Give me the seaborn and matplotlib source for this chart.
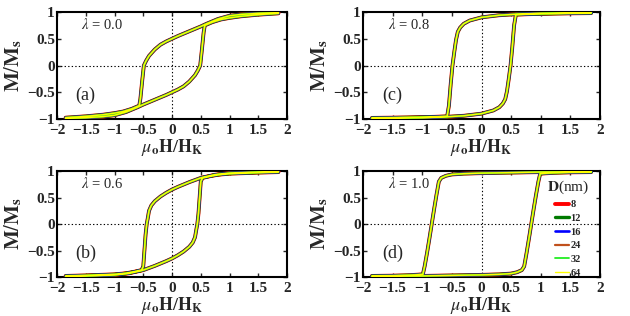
import matplotlib
matplotlib.use("Agg")
import numpy as np
import pandas as pd
import matplotlib.pyplot as plt
from matplotlib.lines import Line2D
import seaborn as sns

# particle diameters (legend) and their line styles
diameters = ["8", "12", "16", "24", "32", "64"]
line_colors = ["#ff0000", "#007a00", "#0000ff", "#c0501c", "#22ee22", "#ffff00"]
line_widths = [2.8, 2.4, 1.9, 1.6, 1.3, 1.0]

# upper (descending field) branch of each loop.
# the ascending branch is its mirror image (H, M) -> (-H, -M)
h_a = [1.85, 1.5, 1.2, 1.0, 0.8, 0.6, 0.5, 0.3, 0.1, 0.0, -0.1, -0.2, -0.3, -0.4,
       -0.45, -0.49, -0.52, -0.55, -0.57, -0.7, -0.85, -1.0, -1.2, -1.5, -1.85]
m_a = [0.99, 0.975, 0.955, 0.93, 0.87, 0.78, 0.73, 0.64, 0.55, 0.5, 0.45, 0.39, 0.3, 0.18,
       0.09, 0.0, -0.3, -0.62, -0.75, -0.81, -0.86, -0.89, -0.92, -0.95, -0.975]

h_b = [1.85, 1.5, 1.0, 0.75, 0.5, 0.3, 0.1, 0.0, -0.1, -0.2, -0.3, -0.36, -0.40, -0.42,
       -0.44, -0.46, -0.48, -0.50, -0.53, -0.65, -0.8, -1.0, -1.5, -1.85]
m_b = [0.99, 0.98, 0.96, 0.93, 0.87, 0.79, 0.70, 0.65, 0.59, 0.52, 0.43, 0.35, 0.25, 0.12,
       0.0, -0.2, -0.5, -0.8, -0.87, -0.9, -0.93, -0.95, -0.97, -0.98]

h_c = [1.85, 1.5, 1.0, 0.6, 0.3, 0.0, -0.2, -0.3, -0.36, -0.4, -0.43, -0.46, -0.49, -0.52,
       -0.55, -0.58, -0.8, -1.0, -1.5, -1.85]
m_c = [0.99, 0.985, 0.975, 0.96, 0.94, 0.90, 0.84, 0.78, 0.71, 0.63, 0.48, 0.25, 0.0, -0.35,
       -0.75, -0.95, -0.96, -0.965, -0.975, -0.98]

h_d = [1.85, 1.5, 1.0, 0.5, 0.0, -0.3, -0.5, -0.6, -0.68, -0.72, -0.76, -0.8, -0.84, -0.88,
       -0.92, -0.96, -0.99, -1.2, -1.5, -1.85]
m_d = [0.99, 0.985, 0.98, 0.97, 0.96, 0.95, 0.935, 0.91, 0.87, 0.8, 0.55, 0.28, 0.0, -0.28,
       -0.55, -0.8, -0.95, -0.965, -0.975, -0.98]

panel_tags = ["(a)", "(b)", "(c)", "(d)"]
lambdas = ["0.0", "0.6", "0.8", "1.0"]
x_ticks = [-2, -1.5, -1, -0.5, 0, 0.5, 1, 1.5, 2]
x_ticklabels = ["\u22122", "\u22121.5", "\u22121", "\u22120.5", "0", "0.5", "1", "1.5", "2"]
y_ticks = [-1, -0.5, 0, 0.5, 1]
y_ticklabels = ["\u22121", "\u22120.5", "0", "0.5", "1"]

branches = [(h_a, m_a), (h_b, m_b), (h_c, m_c), (h_d, m_d)]


def loop_frame(h_up, m_up):
    h = np.array(h_up)
    m = np.array(m_up)
    hh = np.concatenate([h, -h])
    mm = np.concatenate([m, -m])
    rows = []
    for d in diameters:
        rows.append(pd.DataFrame({"H": hh, "M": mm, "D": d}))
    return pd.concat(rows, ignore_index=True)


sns.set_style("ticks")
plt.rcParams["font.family"] = ["Liberation Serif", "DejaVu Serif"]
plt.rcParams["mathtext.fontset"] = "stix"

fig = plt.figure(figsize=(6.3, 3.16), dpi=100)
positions = [
    [0.0905, 0.6234, 0.3651, 0.3386],
    [0.0905, 0.1234, 0.3651, 0.3354],
    [0.5762, 0.6234, 0.3762, 0.3386],
    [0.5762, 0.1234, 0.3762, 0.3354],
]
palette = dict(zip(diameters, line_colors))
sizes = dict(zip(diameters, line_widths))

for i, (h_up, m_up) in enumerate(branches):
    ax = fig.add_axes(positions[i])
    df = loop_frame(h_up, m_up)
    ax.axhline(0, color="black", ls=(0, (1.2, 2)), lw=0.8, zorder=1)
    ax.axvline(0, color="black", ls=(0, (1.2, 2)), lw=0.8, zorder=1)
    sns.lineplot(data=df, x="H", y="M", hue="D", size="D", hue_order=diameters,
                 size_order=diameters, palette=palette, sizes=sizes, sort=False,
                 estimator=None, legend=False, ax=ax, zorder=3)
    ax.set_xlim(-2, 2)
    ax.set_ylim(-1, 1)
    ax.set_xticks(x_ticks)
    ax.set_xticklabels(x_ticklabels, fontweight="bold", fontsize=11)
    ax.set_yticks(y_ticks)
    ax.set_yticklabels(y_ticklabels, fontweight="bold", fontsize=11)
    ax.tick_params(direction="in", length=3, width=1, top=True, right=True)
    ax.tick_params(axis="x", pad=3.5)
    ax.tick_params(axis="y", pad=1.5)
    for s in ax.spines.values():
        s.set_linewidth(1.5)
        s.set_color("black")
    ax.set_xlabel(r"$\mu_{\mathbf{o}}\mathbf{H}/\mathbf{H}_{\mathbf{K}}$", fontsize=13, labelpad=0)
    ax.set_ylabel(r"$\mathbf{M}/\mathbf{M}_{\mathbf{s}}$", fontsize=15, labelpad=2)
    ax.text(0.105, 0.88, r"$\lambda$ = " + lambdas[i], transform=ax.transAxes,
            fontsize=10.5, va="center", ha="left")
    ax.text(0.08, 0.22, panel_tags[i], transform=ax.transAxes,
            fontsize=13, va="center", ha="left")
    if i == 3:
        handles = [Line2D([], [], color=c, lw=w) for c, w in zip(line_colors, line_widths)]
        leg = ax.legend(handles, diameters, title=r"$\mathbf{D}$(nm)", loc="upper left",
                        bbox_to_anchor=(0.75, 0.99), frameon=False, handlelength=1.3,
                        handletextpad=0.15, labelspacing=0.42, borderaxespad=0.2,
                        prop={"weight": "bold", "size": 7.5}, title_fontsize=11)

fig.savefig("out.png", dpi=100)
